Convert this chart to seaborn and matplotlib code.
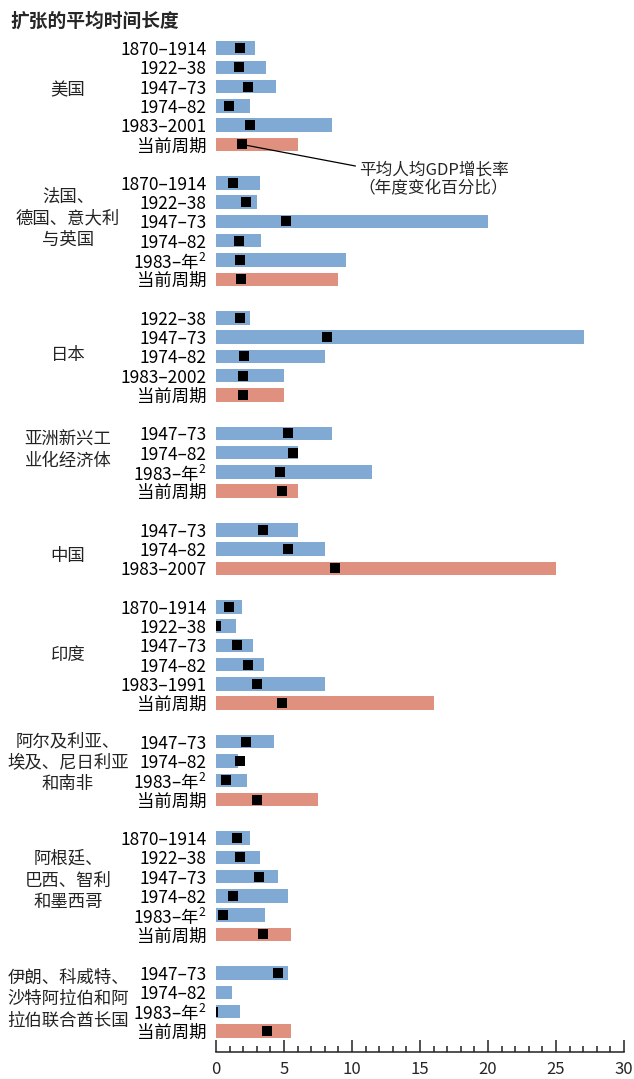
import numpy as np
import pandas as pd
import matplotlib.pyplot as plt
import matplotlib.transforms as mtransforms
from matplotlib.ticker import MultipleLocator
import seaborn as sns

# groups (region labels) and their rows
groups = ["美国", "法国、\n德国、意大利\n与英国", "日本", "亚洲新兴工\n业化经济体", "中国", "印度",
          "阿尔及利亚、\n埃及、尼日利亚\n和南非", "阿根廷、\n巴西、智利\n和墨西哥",
          "伊朗、科威特、\n沙特阿拉伯和阿\n拉伯联合酋长国"]

periods = [
    ["1870–1914", "1922–38", "1947–73", "1974–82", "1983–2001", "当前周期"],
    ["1870–1914", "1922–38", "1947–73", "1974–82", "1983–年$^2$", "当前周期"],
    ["1922–38", "1947–73", "1974–82", "1983–2002", "当前周期"],
    ["1947–73", "1974–82", "1983–年$^2$", "当前周期"],
    ["1947–73", "1974–82", "1983–2007"],
    ["1870–1914", "1922–38", "1947–73", "1974–82", "1983–1991", "当前周期"],
    ["1947–73", "1974–82", "1983–年$^2$", "当前周期"],
    ["1870–1914", "1922–38", "1947–73", "1974–82", "1983–年$^2$", "当前周期"],
    ["1947–73", "1974–82", "1983–年$^2$", "当前周期"],
]

# average length of expansion (years)
durations = [
    [2.86, 3.66, 4.40, 2.47, 8.51, 6.0],
    [3.21, 3.0, 20.0, 3.30, 9.55, 9.0],
    [2.47, 27.05, 8.0, 5.0, 5.0],
    [8.5, 6.0, 11.5, 6.0],
    [6.0, 8.0, 25.0],
    [1.9, 1.5, 2.7, 3.5, 8.0, 16.0],
    [4.25, 1.65, 2.3, 7.5],
    [2.5, 3.2, 4.55, 5.3, 3.57, 5.5],
    [5.3, 1.2, 1.75, 5.5],
]

# average per-capita GDP growth (percent)
growth = [
    [1.73, 1.67, 2.38, 0.98, 2.53, 1.88],
    [1.22, 2.23, 5.18, 1.67, 1.73, 1.82],
    [1.73, 8.13, 2.08, 2.02, 2.02],
    [5.33, 5.63, 4.73, 4.82],
    [3.48, 5.27, 8.72],
    [0.98, 0.0, 1.58, 2.38, 3.04, 4.82],
    [2.23, 1.73, 0.71, 3.04],
    [1.52, 1.79, 3.13, 1.25, 0.48, 3.42],
    [4.55, np.nan, -0.24, 3.78],
]

# 1 = current cycle (salmon bar)
current = [
    [0, 0, 0, 0, 0, 1],
    [0, 0, 0, 0, 0, 1],
    [0, 0, 0, 0, 1],
    [0, 0, 0, 1],
    [0, 0, 1],
    [0, 0, 0, 0, 0, 1],
    [0, 0, 0, 1],
    [0, 0, 0, 0, 0, 1],
    [0, 0, 0, 1],
]

# vertical centre of each group label, in row units
group_label_pos = [2.18, 8.82, 15.93, 20.86, 26.36, 31.5, 37.1, 43.2, 49.35]

rows = []
pos = 0
for g, labs, durs, grs, cur in zip(groups, periods, durations, growth, current):
    for lab, d, gr, c in zip(labs, durs, grs, cur):
        rows.append({"group": g, "label": lab, "duration": d, "growth": gr,
                     "kind": "cur" if c else "hist", "pos": pos})
        pos += 1
    pos += 1  # blank row between groups
df = pd.DataFrame(rows)

sns.set_theme(style="white")
plt.rcParams["font.family"] = ["Noto Sans CJK SC", "DejaVu Sans"]
plt.rcParams["mathtext.fontset"] = "custom"
plt.rcParams["mathtext.rm"] = "Noto Sans CJK SC"
plt.rcParams["mathtext.it"] = "Noto Sans CJK SC"

W, H = 634, 1079
fig = plt.figure(figsize=(W / 100, H / 100), dpi=100)
ax = fig.add_axes([216 / W, 1 - 1052 / H, (624 - 216) / W, (1052 - 38) / H])

sns.barplot(data=df, x="duration", y="pos", hue="kind", orient="y", native_scale=True,
            dodge=False, width=0.7, palette={"hist": "#80a9d4", "cur": "#e0907e"},
            saturation=1, linewidth=0, errorbar=None, legend=False, ax=ax)
sns.scatterplot(data=df, x="growth", y="pos", marker="s", color="black", s=58,
                linewidth=0, legend=False, zorder=3, ax=ax)

ax.set_xlim(0, 30)
ax.set_ylim(52.1, -0.52)
ax.set_xlabel("")
ax.set_ylabel("")

ax.set_yticks(df["pos"], df["label"])
ax.tick_params(axis="y", length=0, pad=7, labelsize=12.5, labelcolor="black")

ax.xaxis.set_major_locator(MultipleLocator(5))
ax.xaxis.set_minor_locator(MultipleLocator(1))
ax.tick_params(axis="x", which="major", direction="in", length=8.6, width=1.1,
               color="#222222", pad=6.5, labelsize=12, bottom=True)
ax.tick_params(axis="x", which="minor", direction="in", length=4.3, width=1.1,
               color="#222222", bottom=True)

for s in ["left", "top", "right"]:
    ax.spines[s].set_visible(False)
ax.spines["bottom"].set_linewidth(1.1)
ax.spines["bottom"].set_color("#222222")

trans = mtransforms.blended_transform_factory(fig.transFigure, ax.transData)
for g, yp in zip(groups, group_label_pos):
    ax.text(68 / W, yp, g, transform=trans, ha="center", va="center",
            multialignment="center", linespacing=1.25, fontsize=12.5, color="#222222")

ax.annotate("平均人均GDP增长率\n（年度变化百分比）", xy=(1.88, 5), xytext=(16.0, 6.82),
            ha="center", va="center", fontsize=12, linespacing=1.2,
            arrowprops=dict(arrowstyle="-", color="black", lw=0.9,
                            relpos=(0, 0.85), shrinkA=0, shrinkB=0))

fig.text(10 / W, 1 - 21 / H, "扩张的平均时间长度", fontsize=13.5, fontweight="bold",
         ha="left", va="center")

fig.savefig("out.png", dpi=100)
